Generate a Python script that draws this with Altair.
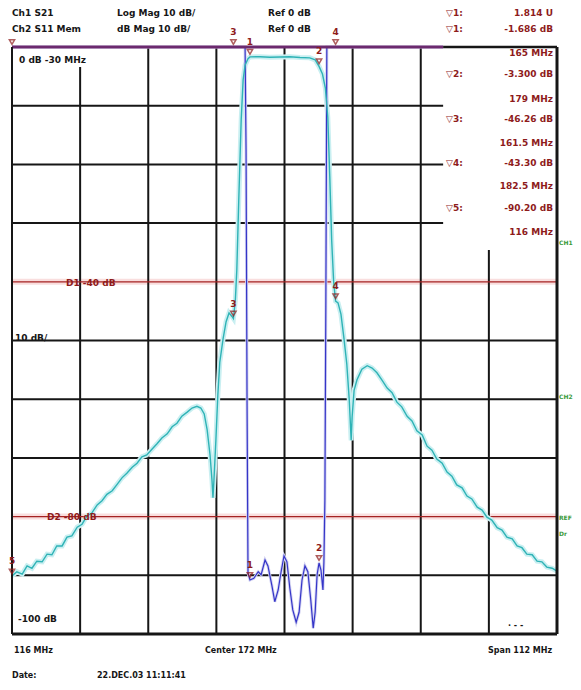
import altair as alt
import pandas as pd

# ---------------- data ----------------
# Ch1 (S21, cyan) trace
s21_freq = [116.0, 117.0, 118.1, 119.1, 120.1, 121.1, 122.2, 123.2, 124.2, 125.2, 126.3, 127.3, 128.3,
            129.4, 130.4, 131.4, 132.4, 133.5, 134.5, 135.5, 136.6, 137.6, 138.6, 139.6, 140.7, 141.7,
            142.7, 143.7, 144.8, 145.8, 146.8, 147.9, 148.9, 149.9, 150.9, 152.0, 153.0, 154.0, 154.8,
            155.5, 156.1, 156.7, 157.1, 157.3, 157.5, 157.9, 158.3, 158.7, 159.4, 160.0, 160.6, 161.2,
            161.5, 161.9, 162.2, 162.6, 163.1, 163.5, 163.9, 164.5, 164.9, 167.0, 169.0, 171.1, 173.1,
            175.2, 177.2, 178.3, 179.1, 179.8, 180.4, 180.9, 181.3, 181.7, 182.1, 182.5, 183.0, 183.6,
            184.2, 184.8, 185.3, 185.7, 185.9, 186.3, 186.9, 187.9, 189.0, 190.0, 191.0, 192.0, 193.1,
            194.1, 195.1, 196.1, 197.2, 198.2, 199.2, 200.3, 201.3, 202.3, 203.3, 204.4, 205.4, 206.4,
            207.4, 208.5, 209.5, 210.5, 211.6, 212.6, 213.6, 214.6, 215.7, 216.7, 217.7, 218.8, 219.8,
            220.8, 221.8, 222.9, 223.9, 224.9, 225.9, 227.0, 228.0]
s21_db = [-90.1, -89.4, -89.8, -88.4, -88.8, -87.6, -87.7, -86.4, -86.5, -85.0, -85.0, -83.5, -83.3,
          -81.8, -81.3, -79.9, -79.4, -78.0, -77.3, -76.2, -75.6, -74.5, -73.4, -72.6, -71.6, -70.9,
          -69.8, -69.5, -68.5, -67.6, -66.6, -65.9, -64.7, -64.1, -62.9, -62.2, -61.5, -61.2, -61.5,
          -62.5, -65.2, -69.5, -73.8, -76.8, -73.8, -67.0, -59.3, -53.7, -49.6, -46.8, -45.3, -45.9,
          -46.26, -43.1, -38.0, -26.1, -12.4, -5.6, -3.1, -2.0, -1.686, -1.65, -1.75, -1.7, -1.65,
          -1.8, -1.85, -2.2, -3.3, -4.6, -7.0, -12.0, -22.0, -33.0, -40.0, -43.3, -43.6, -45.5,
          -49.5, -54.0, -60.0, -67.0, -63.0, -58.5, -56.7, -54.9, -54.3, -54.7, -55.5, -56.7, -58.1,
          -58.9, -60.5, -61.3, -62.9, -63.7, -65.4, -66.1, -68.0, -68.7, -70.2, -70.9, -72.4, -73.1,
          -74.6, -75.1, -76.5, -77.0, -78.4, -78.9, -80.1, -80.6, -81.9, -82.3, -83.5, -83.8, -85.0,
          -85.3, -86.4, -86.5, -87.6, -87.7, -88.6, -88.8, -89.3]

# Ch2 (S11, blue) trace
s11_freq = [116.0, 163.9, 164.1, 164.3, 164.5, 164.9, 165.7, 166.6, 167.2, 168.0, 168.6, 169.4, 170.0,
            170.7, 171.3, 171.9, 172.5, 173.1, 173.7, 174.4, 175.0, 175.6, 176.2, 176.8, 177.4, 177.9,
            178.3, 178.7, 179.1, 179.5, 179.9, 180.1, 180.3, 180.5, 180.7, 204.6]
s11_db = [0, 0, -17.5, -60, -89.6, -90.8, -90.5, -89.4, -89.9, -87.4, -88.4, -91.7, -94.5,
          -92.5, -89.4, -86.7, -87.7, -92.2, -95.9, -98.0, -96.3, -90.8, -88.4, -89.4, -94.2, -99.0,
          -96.3, -89.9, -87.9, -89.1, -92.5, -87.7, -77.2, -43.1, 0, 0]

# markers
marker_ids = ["1", "2", "3", "4", "5"]
marker_freq = [164.9, 179.1, 161.5, 182.5, 116.0]
ch1_marker_db = [-1.686, -3.300, -46.26, -43.30, -90.20]
ch2_marker_db = [-90.8, -87.9, 0.0, 0.0, 0.0]
ch2_marker_shown = ["1", "2", "3", "4", ""]

# display (limit) lines
ref_line_db = [-40, -80]

# axes
f_start, f_stop = 116.0, 228.0
db_top, db_bottom = 0.0, -100.0
v_grid = [130, 144, 158, 172, 186, 200, 214]
h_grid = [-10, -20, -30, -40, -50, -60, -70, -80, -90]
box_left_f = 204.6     # marker read-out box edge
box_bottom_db = -34.6

# ---------------- chart ----------------
PLOT_X0, PLOT_Y0 = 12, 47
W, H = 545, 587

xs = alt.Scale(domain=[f_start, f_stop], nice=False, zero=False)
ys = alt.Scale(domain=[db_bottom, db_top], nice=False, zero=False)

DARK = "#161616"
RED = "#8e1b1b"
GREEN = "#3a9a3a"
CYAN = "#2fb3b6"
BLUE = "#3535c8"

s21 = pd.DataFrame({"f": s21_freq, "db": s21_db, "i": range(len(s21_freq))})
s11 = pd.DataFrame({"f": s11_freq, "db": s11_db, "i": range(len(s11_freq))})


def line(df, color, width, opacity=1.0):
    return alt.Chart(df).mark_line(color=color, strokeWidth=width, opacity=opacity, interpolate="linear").encode(
        x=alt.X("f:Q", scale=xs, axis=None),
        y=alt.Y("db:Q", scale=ys, axis=None),
        order="i:Q",
    )


# grid segments
grid_rows = []
for f in v_grid:
    top = db_top
    if f == 130:
        top = -2.8
    if f >= box_left_f:
        top = box_bottom_db
    grid_rows.append({"x": f, "x2": f, "y": db_bottom, "y2": top})
for d in h_grid:
    if d == -40 or d == -80:
        continue
    right = f_stop
    if d > box_bottom_db:
        right = box_left_f
    grid_rows.append({"x": f_start, "x2": right, "y": d, "y2": d})
grid_df = pd.DataFrame(grid_rows)

grid = alt.Chart(grid_df).mark_rule(color=DARK, strokeWidth=2).encode(
    x=alt.X("x:Q", scale=xs, axis=None), x2="x2:Q",
    y=alt.Y("y:Q", scale=ys, axis=None), y2="y2:Q")

ref_df = pd.DataFrame({"x": [f_start] * 2, "x2": [f_stop] * 2, "y": ref_line_db})
ref_halo = alt.Chart(ref_df).mark_rule(color="#f9dede", strokeWidth=6).encode(
    x=alt.X("x:Q", scale=xs, axis=None), x2="x2:Q", y=alt.Y("y:Q", scale=ys, axis=None))
ref_lines = alt.Chart(ref_df).mark_rule(color="#a52222", strokeWidth=1.3).encode(
    x=alt.X("x:Q", scale=xs, axis=None), x2="x2:Q", y=alt.Y("y:Q", scale=ys, axis=None))

frame_df = pd.DataFrame([
    {"x": f_start, "x2": f_start, "y": db_bottom, "y2": db_top, "w": 2},
    {"x": f_start, "x2": f_stop, "y": db_bottom, "y2": db_bottom, "w": 3},
    {"x": f_stop, "x2": f_stop, "y": db_bottom, "y2": db_top, "w": 3},
    {"x": box_left_f, "x2": f_stop, "y": db_top, "y2": db_top, "w": 2.5},
])
frame = alt.Chart(frame_df).mark_rule(color=DARK).encode(
    x=alt.X("x:Q", scale=xs, axis=None), x2="x2:Q",
    y=alt.Y("y:Q", scale=ys, axis=None), y2="y2:Q",
    strokeWidth=alt.StrokeWidth("w:Q", scale=None))
top_df = pd.DataFrame({"x": [f_start], "x2": [box_left_f], "y": [db_top]})
top_line = alt.Chart(top_df).mark_rule(color="#6c2a6e", strokeWidth=2.8).encode(
    x=alt.X("x:Q", scale=xs, axis=None), x2="x2:Q", y=alt.Y("y:Q", scale=ys, axis=None))

mk = pd.DataFrame({
    "id": marker_ids + ch2_marker_shown,
    "f": marker_freq * 2,
    "db": ch1_marker_db + ch2_marker_db,
})
marker_sym = alt.Chart(mk).mark_point(shape="triangle-down", size=28, filled=False, color=RED,
                                      strokeWidth=1.5, yOffset=-5).encode(
    x=alt.X("f:Q", scale=xs, axis=None), y=alt.Y("db:Q", scale=ys, axis=None))
marker_num = alt.Chart(mk).mark_text(color=RED, font="DejaVu Sans", fontSize=9, fontWeight="bold",
                                     dy=-15).encode(
    x=alt.X("f:Q", scale=xs, axis=None), y=alt.Y("db:Q", scale=ys, axis=None), text="id:N")

# text annotations (page coords), align
notes = [
    ("Ch1 S21", 12, 13, DARK, "left", 9),
    ("Log Mag 10 dB/", 117, 13, DARK, "left", 9),
    ("Ref 0 dB", 268, 13, DARK, "left", 9),
    ("Ch2 S11 Mem", 12, 29, DARK, "left", 9),
    ("dB Mag 10 dB/", 117, 29, DARK, "left", 9),
    ("Ref 0 dB", 268, 29, DARK, "left", 9),
    ("▽1:", 446, 13, RED, "left", 9),
    ("1.814 U", 553, 13, RED, "right", 9),
    ("▽1:", 446, 29, RED, "left", 9),
    ("-1.686 dB", 553, 29, RED, "right", 9),
    ("165 MHz", 553, 53, RED, "right", 9),
    ("▽2:", 446, 74, RED, "left", 9),
    ("-3.300 dB", 553, 74, RED, "right", 9),
    ("179 MHz", 553, 99, RED, "right", 9),
    ("▽3:", 446, 119, RED, "left", 9),
    ("-46.26 dB", 553, 119, RED, "right", 9),
    ("161.5 MHz", 553, 143, RED, "right", 9),
    ("▽4:", 446, 163, RED, "left", 9),
    ("-43.30 dB", 553, 163, RED, "right", 9),
    ("182.5 MHz", 553, 186, RED, "right", 9),
    ("▽5:", 446, 208, RED, "left", 9),
    ("-90.20 dB", 553, 208, RED, "right", 9),
    ("116 MHz", 553, 232, RED, "right", 9),
    ("0 dB  -30 MHz", 19, 60, DARK, "left", 9),
    ("10 dB/", 15, 338, DARK, "left", 9),
    ("-100 dB", 18, 619, DARK, "left", 9),
    ("D1 -40 dB", 66, 283, RED, "left", 9),
    ("D2 -80 dB", 47, 517, RED, "left", 9),
    ("116 MHz", 14, 651, DARK, "left", 8),
    ("Center 172 MHz", 205, 651, DARK, "left", 8),
    ("Span 112 MHz", 488, 651, DARK, "left", 8),
    ("Date:", 12, 676, DARK, "left", 8),
    ("22.DEC.03  11:11:41", 97, 676, DARK, "left", 8),
    ("·  -  -", 508, 626, DARK, "left", 8),
    ("CH1", 559, 243, GREEN, "left", 6),
    ("CH2", 559, 397, GREEN, "left", 6),
    ("REF", 559, 518, GREEN, "left", 6),
    ("Dr", 559, 534, GREEN, "left", 6),
]
notes_df = pd.DataFrame([
    {"t": t, "px": x - PLOT_X0, "py": y - PLOT_Y0, "c": c, "a": a, "s": s} for (t, x, y, c, a, s) in notes
])

# white backdrop behind the label in the top-left corner
bg = alt.Chart(pd.DataFrame({"x": [4], "x2": [88], "y": [6], "y2": [20]})).mark_rect(color="white").encode(
    x=alt.X("x:Q", scale=None), x2="x2:Q", y=alt.Y("y:Q", scale=None), y2="y2:Q")


def text_layer(align):
    d = notes_df[notes_df["a"] == align]
    return alt.Chart(d).mark_text(align=align, baseline="middle", font="DejaVu Sans",
                                  fontWeight="bold").encode(
        x=alt.X("px:Q", scale=None),
        y=alt.Y("py:Q", scale=None),
        text="t:N",
        color=alt.Color("c:N", scale=None),
        size=alt.Size("s:Q", scale=None),
    )


chart = alt.layer(
    ref_halo,
    grid,
    ref_lines,
    line(s21, "#c9eff1", 5),
    line(s11, "#d4d4f2", 3),
    line(s11, BLUE, 1.2),
    line(s21, CYAN, 1.4),
    top_line,
    frame,
    bg,
    marker_sym,
    marker_num,
    text_layer("left"),
    text_layer("right"),
).resolve_scale(x="shared", y="shared").properties(
    width=W, height=H,
    padding={"left": PLOT_X0 - 8, "top": PLOT_Y0 - 8, "right": 16, "bottom": 46},
    autosize=alt.AutoSizeParams(type="none"),
    background="white",
).configure_view(stroke=None)

chart.save("out.html", embed_options={"renderer": "svg", "actions": False})
